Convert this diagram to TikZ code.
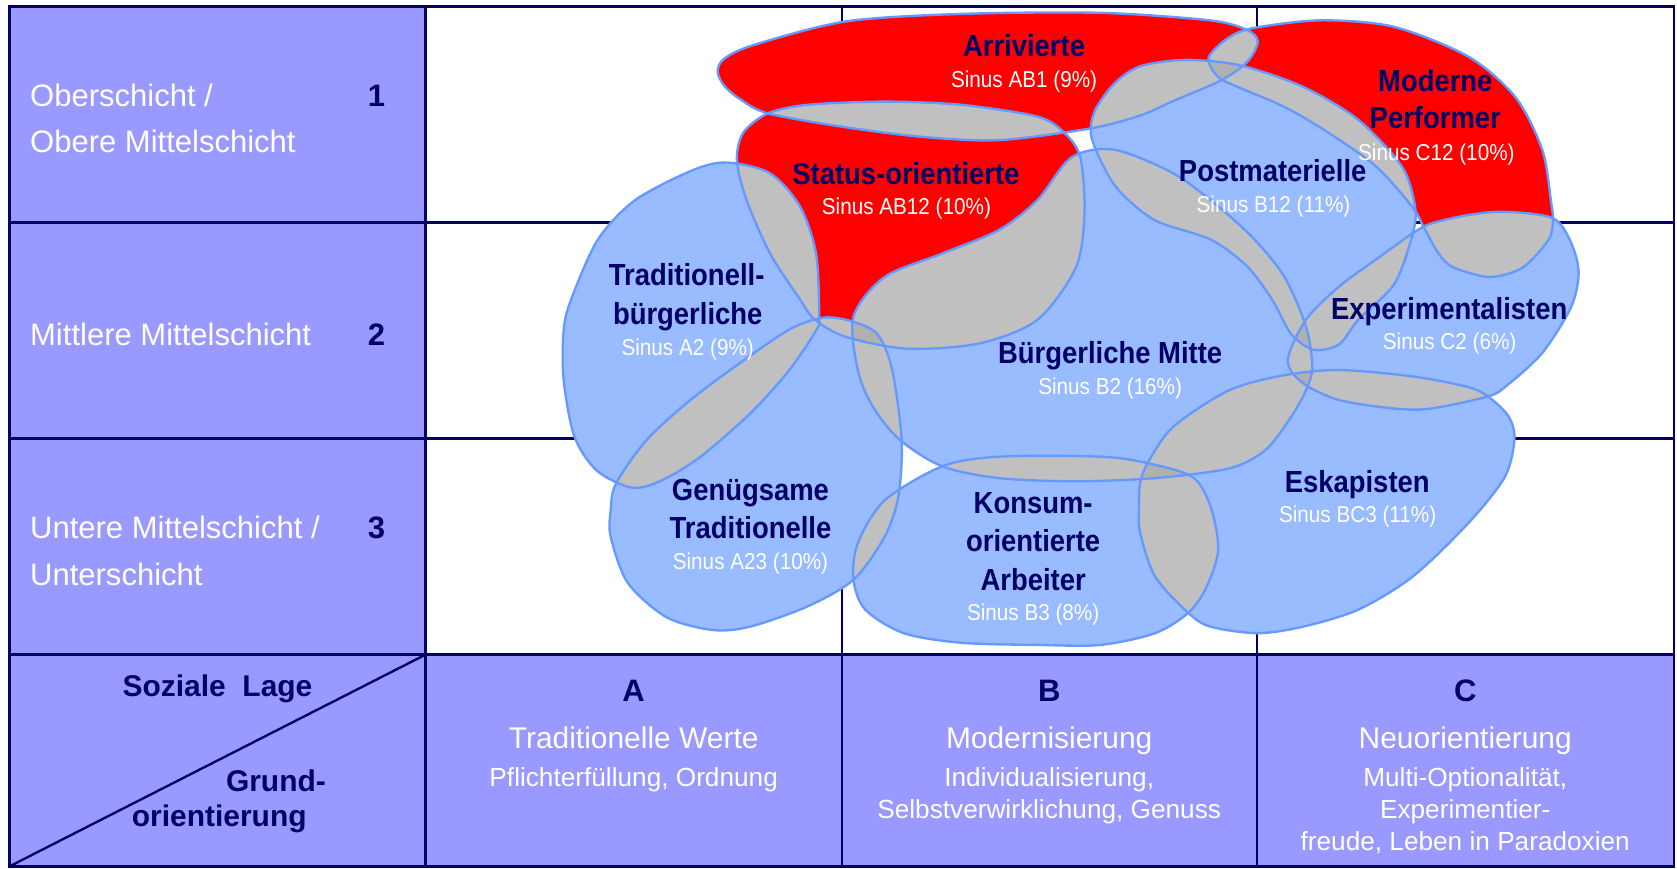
\documentclass[tikz,border=0pt]{standalone}
\usepackage{fontspec}
\setmainfont{Liberation Sans}
\newfontfamily\condfont[FakeStretch=0.9]{Liberation Sans}
\definecolor{navy}{HTML}{000066}
\definecolor{lav}{HTML}{9999FF}
\definecolor{lblue}{HTML}{99BBFF}
\definecolor{outl}{HTML}{6699FF}
\definecolor{ovl}{HTML}{C0C0C0}
\definecolor{ovltwo}{HTML}{B0B0B0}
\definecolor{milred}{HTML}{FF0000}
\tikzset{
  gridline/.style={draw=navy, line width=2.2pt},
  blobline/.style={draw=outl, line width=2.2pt},
  lab/.style={text=navy, font=\condfont\bfseries\fontsize{28.5}{32}\selectfont, inner sep=0pt, anchor=base},
  sin/.style={text=white, font=\condfont\fontsize{21.5}{25}\selectfont, inner sep=0pt, anchor=base},
  rowtxt/.style={text=white, font=\fontsize{29}{34}\selectfont, inner sep=0pt, anchor=base west},
  rownum/.style={text=navy, font=\bfseries\fontsize{29}{34}\selectfont, inner sep=0pt, anchor=base},
  colhead/.style={text=navy, font=\bfseries\fontsize{29}{32}\selectfont, inner sep=0pt, anchor=base},
  coltitle/.style={text=white, font=\fontsize{28}{32}\selectfont, inner sep=0pt, anchor=base},
  colsub/.style={text=white, font=\fontsize{24.5}{28}\selectfont, inner sep=0pt, anchor=base},
  corner/.style={text=navy, font=\bfseries\fontsize{28}{32}\selectfont, inner sep=0pt, anchor=base},
}
% blob outlines (display pixel coordinates)
\def\blobA{plot[smooth cycle] coordinates {(671,67) (677,55) (705,42) (791,20) (899,13) (1029,12) (1131,19) (1166,28) (1176,39) (1166,58) (1142,75) (1098,94) (1066,108) (1020,120) (934,131) (863,128) (791,119) (718,106) (691,92) (677,80)}}
\def\blobB{plot[smooth cycle] coordinates {(718,106) (755,98) (827,95) (899,98) (970,109) (995,124) (1010,147) (1014,199) (1006,250) (970,299) (916,321) (848,326) (791,315) (762,299) (748,280) (720,237) (698,187) (689,150) (695,124)}}
\def\blobC{plot[smooth cycle] coordinates {(1130,54) (1149,35) (1173,26) (1235,19) (1303,25) (1373,53) (1417,91) (1442,140) (1450,187) (1452,206) (1448,224) (1424,250) (1393,259) (1359,250) (1345,237) (1331,212) (1321,194) (1287,156) (1242,124) (1201,100) (1159,82) (1139,72)}}
\def\blobD{plot[smooth cycle] coordinates {(1020,125) (1024,103) (1042,78) (1066,62) (1108,56) (1159,61) (1218,81) (1270,112) (1311,156) (1323,193) (1321,218) (1304,265) (1270,299) (1252,322) (1228,327) (1207,312) (1190,281) (1166,249) (1132,224) (1080,206) (1046,178) (1029,150)}}
\def\blobE{plot[smooth cycle] coordinates {(798,296) (827,259) (881,237) (934,215) (970,187) (1002,147) (1042,140) (1097,162) (1139,193) (1173,224) (1201,259) (1221,305) (1227,343) (1221,365) (1207,390) (1183,421) (1149,438) (1080,447) (1006,450) (934,447) (881,436) (841,411) (816,380) (802,346)}}
\def\blobF{plot[smooth cycle] coordinates {(680,152) (720,162) (748,193) (763,237) (766,296) (763,309) (738,346) (702,386) (655,427) (619,449) (591,456) (558,440) (537,408) (527,355) (527,309) (534,280) (559,224) (594,187) (648,159)}}
\def\blobG{plot[smooth cycle] coordinates {(576,452) (605,411) (648,372) (701,333) (740,307) (770,297) (795,300) (820,312) (834,345) (843,411) (840,464) (827,502) (798,542) (755,567) (701,586) (666,589) (623,577) (587,545) (571,502) (571,477)}}
\def\blobH{plot[smooth cycle] coordinates {(802,508) (827,468) (881,436) (934,427) (1029,427) (1073,433) (1115,446) (1132,474) (1139,514) (1128,549) (1111,573) (1080,592) (1029,603) (970,603) (899,601) (845,592) (809,570) (798,542)}}
\def\blobI{plot[smooth cycle] coordinates {(1204,337) (1221,299) (1252,268) (1286,243) (1321,218) (1338,209) (1373,201) (1407,198) (1452,204) (1469,227) (1476,255) (1469,287) (1442,330) (1407,362) (1390,371) (1338,382) (1304,382) (1252,374) (1218,358)}}
\def\blobJ{plot[smooth cycle] coordinates {(1073,433) (1097,399) (1149,365) (1200,351) (1252,346) (1321,352) (1373,362) (1393,372) (1411,390) (1416,411) (1407,446) (1373,489) (1321,539) (1270,570) (1218,586) (1176,592) (1132,586) (1111,573) (1080,539) (1066,498) (1065,474) (1066,452)}}
\expandafter\let\csname blob1\endcsname\blobA
\expandafter\let\csname blob2\endcsname\blobB
\expandafter\let\csname blob3\endcsname\blobC
\expandafter\let\csname blob4\endcsname\blobD
\expandafter\let\csname blob5\endcsname\blobE
\expandafter\let\csname blob6\endcsname\blobF
\expandafter\let\csname blob7\endcsname\blobG
\expandafter\let\csname blob8\endcsname\blobH
\expandafter\let\csname blob9\endcsname\blobI
\expandafter\let\csname blob10\endcsname\blobJ
\begin{document}
\begin{tikzpicture}[x=1pt,y=-1pt]
\useasboundingbox (0,0) rectangle (1568,812);
\fill[white] (0,0) rectangle (1568,812);
% panels
\fill[lav] (9,6) rectangle (398,810);
\fill[lav] (398,612) rectangle (1565,810);
% grid
\draw[gridline] (9,6) rectangle (1565,810);
\draw[gridline] (9,208) -- (1565,208);
\draw[gridline] (9,410) -- (1565,410);
\draw[gridline] (9,612) -- (1565,612);
\draw[gridline] (398,6) -- (398,810);
\draw[gridline] (787,6) -- (787,810);
\draw[gridline] (1175,6) -- (1175,810);
\draw[gridline] (398,612) -- (9,810);
% blob fills
\foreach \i/\c in {1/milred,2/milred,3/milred,4/lblue,5/lblue,6/lblue,7/lblue,8/lblue,9/lblue,10/lblue}{
  \expandafter\let\expandafter\pa\csname blob\i\endcsname
  \fill[\c] \pa;
}
% pairwise overlaps
\foreach \i in {1,...,9}{
  \pgfmathtruncatemacro\ii{\i+1}
  \foreach \j in {\ii,...,10}{
    \begin{scope}
      \expandafter\let\expandafter\pa\csname blob\i\endcsname
      \expandafter\let\expandafter\pb\csname blob\j\endcsname
      \clip \pa;
      \fill[ovl] \pb;
    \end{scope}
  }
}
% triple overlaps
\foreach \i in {1,...,8}{
  \pgfmathtruncatemacro\ii{\i+1}
  \foreach \j in {\ii,...,9}{
    \pgfmathtruncatemacro\jj{\j+1}
    \foreach \k in {\jj,...,10}{
      \begin{scope}
        \expandafter\let\expandafter\pa\csname blob\i\endcsname
        \expandafter\let\expandafter\pb\csname blob\j\endcsname
        \expandafter\let\expandafter\pc\csname blob\k\endcsname
        \clip \pa;
        \clip \pb;
        \fill[ovltwo] \pc;
      \end{scope}
    }
  }
}
% outlines
\foreach \i in {1,...,10}{
  \expandafter\let\expandafter\pa\csname blob\i\endcsname
  \draw[blobline] \pa;
}
% row labels
\node[rowtxt] (r1a) at (28,100) {Oberschicht /};
\node[rowtxt] (r1b) at (28,143) {Obere Mittelschicht};
\node[rownum] (n1) at (352,100) {1};
\node[rowtxt] (r2a) at (28,322.7) {Mittlere Mittelschicht};
\node[rownum] (n2) at (352,322.7) {2};
\node[rowtxt] (r3a) at (28,503.7) {Untere Mittelschicht /};
\node[rowtxt] (r3b) at (28,547) {Unterschicht};
\node[rownum] (n3) at (352,503.7) {3};
% corner cell
\node[corner] (soz) at (203.4,651.4) {Soziale~ Lage};
\node[corner] (grund) at (258,740) {Grund-};
\node[corner] (orient) at (205,773) {orientierung};
% column labels
\node[colhead] (ca) at (592.5,656) {A};
\node[coltitle] (cat) at (592.5,699.7) {Traditionelle Werte};
\node[colsub] (cas) at (592.5,735.5) {Pflichterfüllung, Ordnung};
\node[colhead] (cb) at (981,656) {B};
\node[coltitle] (cbt) at (981,699.7) {Modernisierung};
\node[colsub] (cbs1) at (981,735.5) {Individualisierung,};
\node[colsub] (cbs2) at (981,765) {Selbstverwirklichung, Genuss};
\node[colhead] (cc) at (1370,656) {C};
\node[coltitle] (cct) at (1370,699.7) {Neuorientierung};
\node[colsub] (ccs1) at (1370,735.5) {Multi-Optionalität,};
\node[colsub] (ccs2) at (1370,765) {Experimentier-};
\node[colsub] (ccs3) at (1370,794.8) {freude, Leben in Paradoxien};
% milieu labels
\node[lab] (arr) at (957.5,53) {Arrivierte};
\node[sin] (arrS) at (957.5,81.7) {Sinus AB1 (9\%)};
\node[lab] (mp1) at (1342,85.7) {Moderne};
\node[lab] (mp2) at (1342,120) {Performer};
\node[sin] (mpS) at (1343,150.2) {Sinus C12 (10\%)};
\node[lab] (sta) at (847,172.4) {Status-orientierte};
\node[sin] (staS) at (847.5,201) {Sinus AB12 (10\%)};
\node[lab] (pm) at (1190,169.9) {Postmaterielle};
\node[sin] (pmS) at (1190.7,198.5) {Sinus B12 (11\%)};
\node[lab] (tb1) at (642,267) {Traditionell-};
\node[lab] (tb2) at (643,303) {bürgerliche};
\node[sin] (tbS) at (643,332) {Sinus A2 (9\%)};
\node[lab] (exp) at (1355,298.6) {Experimentalisten};
\node[sin] (expS) at (1355.4,326.6) {Sinus C2 (6\%)};
\node[lab] (bm) at (1038,340.3) {Bürgerliche Mitte};
\node[sin] (bmS) at (1038,368.7) {Sinus B2 (16\%)};
\node[lab] (esk) at (1269,460.7) {Eskapisten};
\node[sin] (eskS) at (1269.4,488.7) {Sinus BC3 (11\%)};
\node[lab] (gt1) at (701.7,468.1) {Genügsame};
\node[lab] (gt2) at (701.7,503.3) {Traditionelle};
\node[sin] (gtS) at (701.7,532.3) {Sinus A23 (10\%)};
\node[lab] (ka1) at (966,480) {Konsum-};
\node[lab] (ka2) at (966,515.8) {orientierte};
\node[lab] (ka3) at (966,551.7) {Arbeiter};
\node[sin] (kaS) at (966,580.6) {Sinus B3 (8\%)};
\end{tikzpicture}
\end{document}
